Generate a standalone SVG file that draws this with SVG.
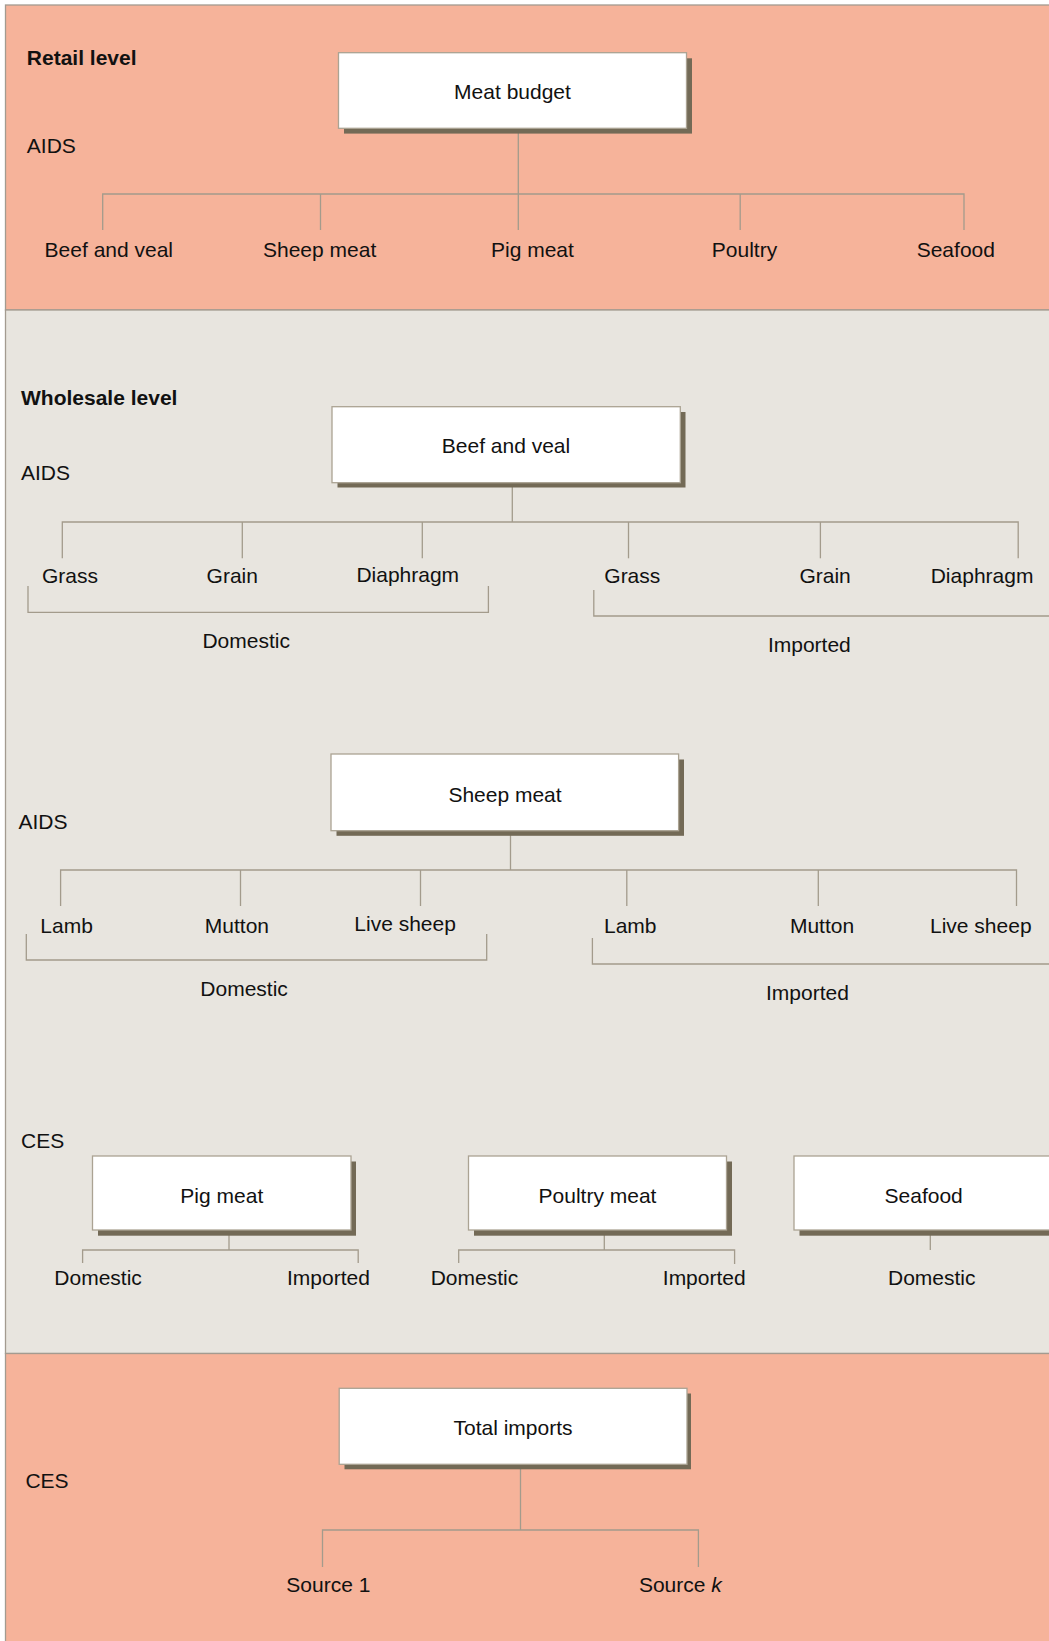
<svg xmlns="http://www.w3.org/2000/svg" width="1049" height="1641" viewBox="0 0 1049 1641">
  <style>
    .band-retail { fill: #F6B39A; stroke: #A39B90; stroke-width: 1.3; }
    .band-whole { fill: #E8E5DF; stroke: #A39B90; stroke-width: 1.3; }
    .lbl { font-family: "Liberation Sans", Arial, sans-serif; font-size: 21px; fill: #111; }
    .hdr { font-family: "Liberation Sans", Arial, sans-serif; font-size: 21px; font-weight: bold; fill: #111; }
    .mid { text-anchor: middle; }
    .box { fill: #FFFFFF; stroke: #ABA393; stroke-width: 1.3; }
    .shadow { fill: #736A56; }
    .conn path { fill: none; stroke: #A39B8C; stroke-width: 1.3; }
  </style>

  <!-- background bands -->
  <rect class="band-retail" x="5.5" y="5" width="1060" height="305"/>
  <rect class="band-whole" x="5.5" y="310" width="1060" height="1043.5"/>
  <rect class="band-retail" x="5.5" y="1353.5" width="1060" height="300"/>

  <!-- level and model labels -->
  <text class="hdr" x="26.8" y="65">Retail level</text>
  <text class="lbl" x="26.8" y="152.7">AIDS</text>
  <text class="hdr" x="21" y="405">Wholesale level</text>
  <text class="lbl" x="21" y="480">AIDS</text>
  <text class="lbl" x="18.5" y="829.3">AIDS</text>
  <text class="lbl" x="21" y="1147.5">CES</text>
  <text class="lbl" x="25.4" y="1488.3">CES</text>

  <!-- connectors -->
  <g id="connectors" class="conn">
    <!-- retail -->
    <path d="M518.3 128.3 V230"/>
    <path d="M102.7 230 V194 H964 V230"/>
    <path d="M320.5 194 V230"/>
    <path d="M740.2 194 V230"/>
    <!-- beef and veal -->
    <path d="M512.3 483 V522"/>
    <path d="M62.3 558.3 V522 H1018.2 V558.3"/>
    <path d="M242.3 522 V558.3"/>
    <path d="M422.3 522 V558.3"/>
    <path d="M628.5 522 V558.3"/>
    <path d="M820.4 522 V558.3"/>
    <path d="M28 586 V612.3 H488.4 V586"/>
    <path d="M593.8 590 V616 H1060"/>
    <!-- sheep meat -->
    <path d="M510.5 831 V870"/>
    <path d="M60.6 906 V870 H1016.5 V906"/>
    <path d="M240.5 870 V906"/>
    <path d="M420.5 870 V906"/>
    <path d="M626.8 870 V906"/>
    <path d="M818.3 870 V906"/>
    <path d="M26.3 934 V960 H486.7 V934"/>
    <path d="M592.4 938 V964 H1060"/>
    <!-- CES wholesale -->
    <path d="M229 1230 V1250"/>
    <path d="M82.6 1263 V1250 H358.2 V1263"/>
    <path d="M604.3 1230 V1250"/>
    <path d="M458.7 1263 V1250 H734.6 V1264"/>
    <path d="M930.3 1230 V1250"/>
    <!-- import sourcing -->
    <path d="M520.5 1464 V1530"/>
    <path d="M322.5 1567 V1530 H698.4 V1567"/>
  </g>

  <!-- nodes -->
  <g id="node-meat-budget">
    <rect class="shadow" x="344" y="58.3" width="348" height="75.3"/>
    <rect class="box" x="338.5" y="52.7" width="348" height="75.6"/>
    <text class="lbl mid" x="512.5" y="99.3">Meat budget</text>
  </g>

  <g id="retail-children">
    <text class="lbl" x="44.6" y="257">Beef and veal</text>
    <text class="lbl" x="263" y="257">Sheep meat</text>
    <text class="lbl" x="491" y="257">Pig meat</text>
    <text class="lbl" x="711.8" y="257">Poultry</text>
    <text class="lbl" x="916.7" y="257">Seafood</text>
  </g>

  <g id="node-beef-veal">
    <rect class="shadow" x="337.5" y="412" width="348" height="75.5"/>
    <rect class="box" x="332" y="406.7" width="348.3" height="76"/>
    <text class="lbl mid" x="506" y="453">Beef and veal</text>
  </g>

  <g id="beef-children">
    <text class="lbl" x="42" y="583.3">Grass</text>
    <text class="lbl" x="206.6" y="583.3">Grain</text>
    <text class="lbl" x="356.4" y="581.7">Diaphragm</text>
    <text class="lbl" x="604.3" y="583.3">Grass</text>
    <text class="lbl" x="799.4" y="583.3">Grain</text>
    <text class="lbl" x="930.7" y="583.3">Diaphragm</text>
    <text class="lbl" x="202.4" y="648.3">Domestic</text>
    <text class="lbl" x="767.9" y="651.7">Imported</text>
  </g>

  <g id="node-sheep-meat">
    <rect class="shadow" x="336.5" y="759.5" width="347.5" height="76.3"/>
    <rect class="box" x="331" y="754" width="347.6" height="76.7"/>
    <text class="lbl mid" x="505" y="801.7">Sheep meat</text>
  </g>

  <g id="sheep-children">
    <text class="lbl" x="40.3" y="932.7">Lamb</text>
    <text class="lbl" x="204.8" y="932.7">Mutton</text>
    <text class="lbl" x="354.3" y="930.7">Live sheep</text>
    <text class="lbl" x="604" y="932.7">Lamb</text>
    <text class="lbl" x="789.9" y="932.7">Mutton</text>
    <text class="lbl" x="930" y="932.7">Live sheep</text>
    <text class="lbl" x="200.3" y="996">Domestic</text>
    <text class="lbl" x="766" y="1000">Imported</text>
  </g>

  <g id="node-pig-meat">
    <rect class="shadow" x="98" y="1161.5" width="258" height="74.2"/>
    <rect class="box" x="92.5" y="1156" width="258.5" height="74"/>
    <text class="lbl mid" x="221.8" y="1203.3">Pig meat</text>
    <text class="lbl" x="54.3" y="1285">Domestic</text>
    <text class="lbl" x="287" y="1285">Imported</text>
  </g>

  <g id="node-poultry-meat">
    <rect class="shadow" x="474" y="1161.5" width="258" height="74.2"/>
    <rect class="box" x="468.5" y="1156" width="258" height="74"/>
    <text class="lbl mid" x="597.5" y="1203.3">Poultry meat</text>
    <text class="lbl" x="430.7" y="1285">Domestic</text>
    <text class="lbl" x="662.8" y="1285">Imported</text>
  </g>

  <g id="node-seafood">
    <rect class="shadow" x="799.5" y="1161.5" width="259" height="74.2"/>
    <rect class="box" x="794" y="1156" width="259" height="74"/>
    <text class="lbl mid" x="923.7" y="1203.3">Seafood</text>
    <text class="lbl" x="888" y="1285">Domestic</text>
  </g>

  <g id="node-total-imports">
    <rect class="shadow" x="344.5" y="1393.5" width="346.5" height="75.8"/>
    <rect class="box" x="339.2" y="1388.3" width="347.8" height="76"/>
    <text class="lbl mid" x="513" y="1435">Total imports</text>
  </g>

  <g id="import-sources">
    <text class="lbl" x="286.3" y="1591.7">Source 1</text>
    <text class="lbl" x="638.9" y="1591.7">Source <tspan font-style="italic">k</tspan></text>
  </g>
</svg>
